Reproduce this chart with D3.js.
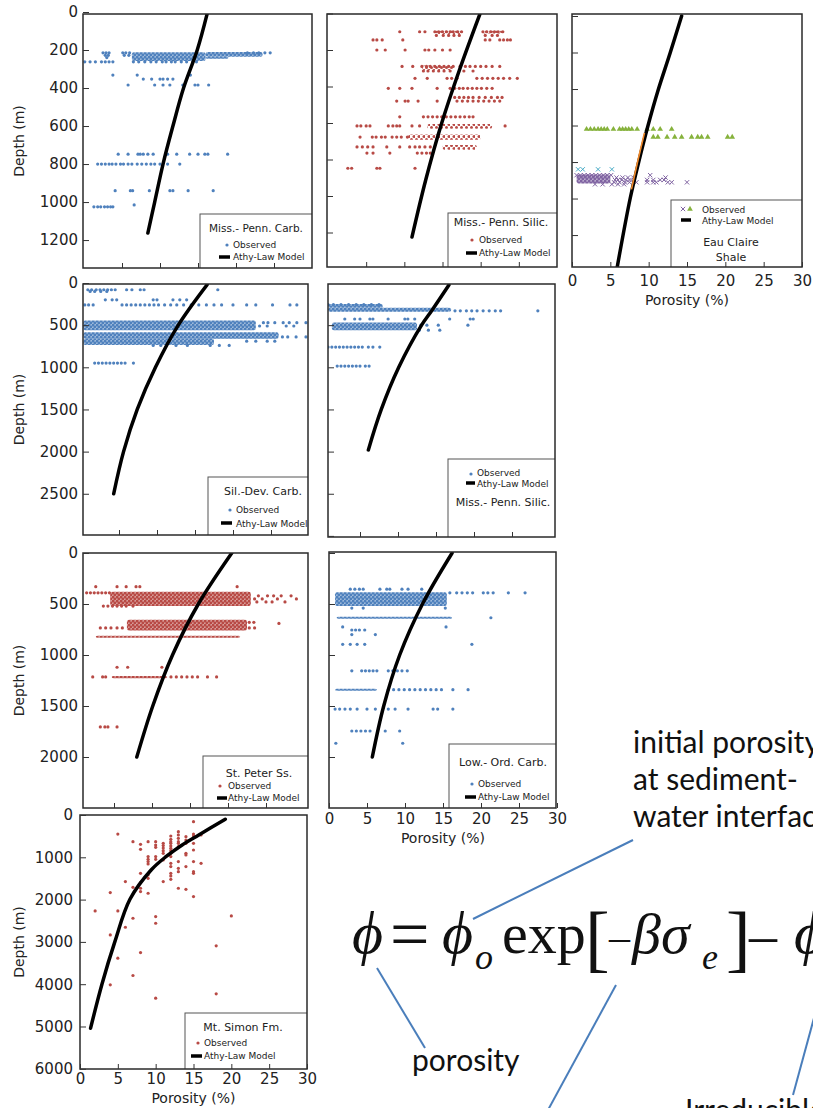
<!DOCTYPE html>
<html>
<head>
<meta charset="utf-8">
<style>
  body { margin:0; background:#fff; }
  svg text { font-family:"DejaVu Sans", Verdana, sans-serif; fill:#222; }
  .frame { fill:none; stroke:#2a2a2a; stroke-width:1.5; }
  .legbox { fill:#fff; stroke:#555; stroke-width:1; }
  .note { font-family:Lato, "Open Sans", sans-serif; font-size:30px; fill:#111; }
  .eq { font-family:"Liberation Serif", "Times New Roman", serif; fill:#111; }
  .pointer { stroke:#4a7ebb; stroke-width:2; }
</style>
</head>
<body>
<div id="chart"></div>
<script src="https://cdnjs.cloudflare.com/ajax/libs/d3/7.8.5/d3.min.js"></script>
<script>
// ---- data: rows are [depth (m), [porosity (%) ...]] ----
var porTicks = [0, 5, 10, 15, 20, 25, 30];
var depthTicks1 = [0, 200, 400, 600, 800, 1000, 1200];
var depthTicks4 = [0, 500, 1000, 1500, 2000, 2500];
var depthTicks5 = [500, 1000, 1500, 2000, 2500, 3000];
var depthTicks6 = [0, 500, 1000, 1500, 2000];
var depthTicks8 = [0, 1000, 2000, 3000, 4000, 5000, 6000];

// Miss.- Penn. Carb.
var obs1 = [
  [215, [2.5, 2.9, 3.3, 5.1, 5.5, 6.0, 21.5, 22.3, 23.0, 23.8, 24.5]],
  [228, [2.8, 3.2, 5.3, 5.9]],
  [240, [3.0]],
  [262, [0.1, 0.8, 1.5, 2.3, 2.8, 3.3, 3.8, 6.5, 7.2, 8.0, 8.8, 9.5, 10.3, 10.8, 11.5, 12.0, 12.8, 13.5, 14.3, 14.8]],
  [332, [3.8, 7.0, 14.0]],
  [353, [7.8, 8.9, 10.0, 10.4, 11.0, 11.7]],
  [384, [5.8, 9.3, 10.4, 11.3, 13.0, 14.6, 15.0, 16.4]],
  [748, [4.5, 5.8, 7.1, 7.4, 7.8, 8.4, 9.1, 11.0, 12.2, 13.9, 15.0, 15.9, 16.3, 18.9]],
  [800, [1.8, 2.3, 2.8, 3.3, 3.7, 4.2, 4.8, 5.2, 5.8, 6.3, 7.0, 7.6, 8.2, 8.8, 9.3, 10.0, 11.0, 12.6]],
  [940, [4.1, 6.1, 6.4, 8.6, 11.3, 11.7, 13.7, 17.0]],
  [1015, [6.6]],
  [1025, [1.3, 1.8, 2.2, 2.7, 3.1, 3.5, 3.8]]
];
// dense clusters: [porMin, porMax, depthTop, depthBottom]
var bands1 = [[6.3, 16, 212, 258], [16, 23.5, 210, 236], [16, 19, 236, 246]];
var model1 = [[16.2, 10], [14.9, 200], [13.1, 400], [11.7, 600], [10.4, 800], [9.3, 1000], [8.4, 1163]];

// Miss.- Penn. Silic. (red)
var obs2 = [
  [100, [9.4, 12.0, 12.7, 14.0, 14.5, 15.0, 15.5, 16.0, 16.4, 17.0, 17.5, 20.3, 20.8, 21.3, 21.8, 22.3, 22.9]],
  [120, [14.2, 15.1, 15.8, 16.5, 17.2, 20.6, 21.5, 22.2]],
  [145, [5.9, 6.4, 7.1, 9.8, 20.6, 21.2, 22.5, 23.0, 23.5, 23.9]],
  [200, [6.4, 7.5, 10.1, 12.7, 13.2, 14.0, 15.0, 16.0]],
  [290, [9.7, 11.1, 12.3, 12.9, 13.4, 14.0, 14.6, 15.2, 15.8, 16.4, 17.3, 18.0, 18.6, 19.3, 20.0, 20.7, 21.5, 22.5]],
  [315, [12.5, 13.1, 13.8, 14.5, 15.2, 16.0, 17.8, 19.0]],
  [355, [11.4, 13.0, 15.6, 16.2, 16.9, 19.5, 20.2, 20.9, 21.6, 22.3, 23.0, 23.8, 24.8]],
  [410, [7.9, 9.4, 11.0, 14.3, 16.0, 16.6, 17.2, 17.7, 18.3, 18.9, 19.5, 20.1, 20.8, 21.5]],
  [460, [16.6, 17.2, 17.8, 18.4, 19.0, 19.8, 20.6, 21.4, 22.2, 22.8]],
  [480, [9.0, 10.1, 10.5, 11.8, 14.3, 16.9, 17.6, 18.3, 19.0, 19.7, 20.4, 21.1, 21.8, 22.5]],
  [566, [9.4, 12.5, 13.1, 13.7, 14.3, 14.9, 15.5, 16.1, 16.7, 17.3, 17.9, 18.5, 19.0]],
  [616, [3.8, 4.3, 5.0, 5.5, 7.9, 8.5, 9.0, 9.4, 11.0, 12.0, 23.2]],
  [677, [4.2, 5.8, 6.3, 7.0, 7.5, 8.4, 9.0, 9.6, 10.4]],
  [731, [3.8, 4.5, 5.2, 5.9, 7.7, 9.4, 10.7, 11.4, 12.0, 12.7, 13.4]],
  [765, [5.1, 5.9, 8.1, 11.7, 12.3, 12.9, 13.4]],
  [848, [2.6, 3.1, 6.4, 6.8, 11.4]]
];
var bands2 = [[14, 17.5, 95, 112], [20.3, 22.9, 95, 110], [12.3, 16.4, 285, 310], [13, 21.5, 605, 632], [10.5, 20, 663, 692], [15, 19.5, 720, 746]];
var model2 = [[19.9, 3], [17.3, 300], [14.9, 600], [12.8, 912], [11.0, 1225]];

// Eau Claire Shale
var obs3green = [
  [620, [1.9, 2.4, 2.9, 3.4, 3.8, 4.2, 4.6, 5.4, 6.2, 6.6, 7.0, 7.4, 7.8, 8.5, 9.8, 10.6, 11.5, 13.0]],
  [663, [10.6, 11.2, 12.4, 13.4, 14.3, 15.6, 16.4, 16.9, 17.7, 20.3, 20.9]]
];
var obs3cyan = [[840, [0.8, 1.4, 3.4, 5.2]]];
var obs3purple = [
  [872, [0.6, 1.1, 1.6, 2.1, 2.6, 3.1, 3.6, 4.1, 4.6, 5.1, 10.2]],
  [885, [5.8, 6.6, 7.3, 8.0, 12.2]],
  [898, [5.6, 6.0, 6.5, 7.0, 7.5, 9.8, 10.6, 11.5, 12.0]],
  [911, [5.5, 6.2, 6.9, 7.5, 8.4, 9.8, 10.6, 11.0, 12.5, 13.0, 15.0]],
  [922, [3.0, 4.0, 5.2, 6.0, 6.8]]
];
var bands3purple = [[0.6, 5.0, 868, 918]];
var model3 = [[14.3, 0], [12.8, 203], [11.2, 411], [9.9, 603], [8.7, 800], [7.6, 997], [5.9, 1375]];
var model3orange = [[9.45, 640], [8.55, 800], [7.75, 950]];

// Sil.-Dev. Carb.
var obs4 = [
  [80, [0.9, 1.4, 2.0, 2.5, 3.0, 3.5, 4.0, 4.5, 6.0, 6.7, 7.8, 8.3, 18.0]],
  [100, [1.2, 1.8, 2.6, 3.4]],
  [200, [3.2, 4.1, 4.7, 9.5, 10.0, 12.1, 13.0, 13.9]],
  [260, [0.5, 1.0, 1.6, 5.4, 6.0, 6.6, 7.2, 7.8, 8.4, 9.0, 9.6, 10.2, 11.0, 11.8, 12.6, 13.5, 14.5, 15.5, 16.5, 17.5, 18.5, 20.0, 21.8, 23.0, 25.2, 27.5, 28.4]],
  [470, [24.0, 24.6, 25.5, 26.6, 27.4, 28.4, 29.6]],
  [510, [23.5, 24.5, 27.0, 28.0]],
  [640, [26.5, 27.2, 28.3, 29.6]],
  [690, [21.8, 23.0, 24.5, 25.5]],
  [740, [9.5, 10.5, 12.5, 14.0, 17.0, 18.2, 19.5]],
  [950, [1.8, 2.3, 2.8, 3.3, 3.8, 4.3, 4.8, 5.3, 5.8, 6.9]]
];
var bands4 = [[0.3, 23, 445, 560], [0.3, 26, 585, 660], [0.3, 17.5, 660, 735]];
var model4 = [[16.6, 20], [12.8, 500], [9.8, 1000], [7.4, 1500], [5.6, 2000], [4.3, 2500]];

// Miss.- Penn. Silic. (blue)
var obs5 = [
  [255, [0.8, 1.5, 2.5, 3.5, 4.5, 5.5, 6.5, 7.5]],
  [330, [17.5, 18.2, 19.0, 19.7, 20.4, 21.2, 22.0, 22.8, 23.5, 28.4]],
  [427, [3.0, 4.3, 5.0, 6.3, 6.7, 8.7, 10.9, 11.3, 12.2, 16.8, 19.5, 19.9]],
  [500, [13.0, 13.8, 15.3, 19.2]],
  [560, [12.8, 14.0, 15.5]],
  [760, [0.8, 1.3, 1.8, 2.3, 2.8, 3.3, 3.8, 4.3, 4.8, 5.3, 6.1, 6.7, 7.6]],
  [985, [2.0, 2.5, 3.0, 3.5, 4.0, 4.5, 5.0, 5.7, 6.2]]
];
var bands5 = [[0.8, 17, 295, 340], [0.8, 8, 250, 295], [1.3, 12.5, 470, 560]];
var model5 = [[16.7, 24], [14.5, 320], [13.1, 500], [10.1, 1000], [7.8, 1500], [6.1, 1980]];

// St. Peter Ss.
var obs6 = [
  [330, [2.6, 5.4, 6.6, 7.9, 8.4, 21.2]],
  [390, [1.4, 1.9, 2.4, 2.9, 3.4, 3.9, 4.4]],
  [420, [24.0, 25.2, 26.0, 27.0, 28.3]],
  [450, [23.5, 24.5, 26.5, 29.0]],
  [480, [23.8, 25.0, 25.8, 27.5]],
  [520, [3.6, 4.2, 4.8, 5.4, 6.0, 6.6, 7.5]],
  [680, [22.8, 23.4]],
  [690, [26.7]],
  [735, [3.2, 3.9, 4.6, 5.4, 6.1, 22.8, 23.5]],
  [1120, [5.4, 6.8, 11.3]],
  [1215, [2.2, 3.5, 3.9, 12.5, 13.2, 13.9, 14.6, 15.3, 16.0, 17.3, 18.5]],
  [1705, [3.2, 3.8, 4.2, 5.4]]
];
var bands6 = [[4.5, 23, 380, 520], [6.7, 22.5, 655, 760], [2.6, 21.6, 812, 832], [4.7, 12, 1205, 1228]];
var model6 = [[20.5, 0], [16.1, 500], [12.7, 1000], [10.1, 1500], [8.0, 2000]];

// Low.- Ord. Carb.
var obs7 = [
  [355, [2.8, 3.4, 4.0, 4.5, 6.7, 7.6, 8.0, 9.6, 10.4, 12.2]],
  [390, [15.9, 16.8, 17.5, 18.2, 18.9, 20.3, 20.9, 21.6, 23.6, 25.8]],
  [540, [3.0, 4.5, 15.3]],
  [635, [21.3]],
  [725, [1.8, 15.4]],
  [755, [3.0, 3.5, 4.0, 4.7]],
  [800, [3.0, 6.1]],
  [895, [1.8, 2.8, 3.7, 4.7, 18.8]],
  [1155, [3.0, 4.3, 4.8, 5.3, 5.8, 6.3, 7.8, 8.4, 9.0, 9.6, 10.3]],
  [1340, [7.8, 8.5, 9.2, 9.9, 10.6, 11.3, 12.0, 12.7, 13.4, 14.1, 14.8, 16.3, 18.3]],
  [1530, [0.8, 1.4, 2.1, 2.8, 3.7, 5.0, 6.1, 7.8, 8.7, 10.4, 13.7, 14.3, 16.3]],
  [1745, [3.0, 3.6, 4.2, 4.8, 5.4, 7.4, 9.3]],
  [1865, [0.9, 9.7]]
];
var bands7 = [[0.8, 15.5, 385, 520], [1.0, 16.2, 625, 645], [0.8, 6.3, 1330, 1350]];
var model7 = [[16.2, 0], [12.3, 500], [9.3, 1000], [7.2, 1500], [5.7, 2000]];

// Mt. Simon Fm. -- columns: [porosity, [depths ...]]
var cols8 = [
  [2, [2268]],
  [4, [1835, 2835, 4016]],
  [5, [450, 2268, 3386]],
  [6, [1575, 2654]],
  [7, [630, 1709, 2441, 3795]],
  [8, [693, 811, 1378, 1598, 1732, 1811, 3252]],
  [9, [630, 984, 1047, 1102, 1157, 1417, 1496, 1850]],
  [10, [630, 709, 764, 984, 1047, 2402, 2559, 4331]],
  [11, [669, 724, 780, 843, 906, 1063, 1575]],
  [12, [496, 575, 630, 669, 732, 787, 843, 906, 984, 1142, 1220, 1378, 1441, 1520]],
  [13, [394, 472, 551, 630, 669, 748, 1102, 1260, 1339, 1732]],
  [14, [512, 591, 669, 906, 945, 1220, 1756]],
  [15, [157, 449, 496, 669, 827, 1102, 1339, 1378, 1929]],
  [16, [472, 1142]],
  [18, [3094, 4228]],
  [20, [2386]]
];
var model8 = [[19.2, 100], [15.7, 472], [13.5, 709], [11.4, 980], [9.4, 1300], [6.6, 1992], [4.6, 3000], [2.9, 4000], [1.4, 5040]];

// ---- drawing ----
var blue = '#4f81bd', red = '#b84a45', green = '#86b23c', purple = '#8064a2', cyan = '#4bacc6', orange = '#f08a2c';

function flatRows(rows) {
  var pts = [];
  rows.forEach(function (r) { r[1].forEach(function (p) { pts.push([p, r[0]]); }); });
  return pts;
}
function flatCols(cols) {
  var pts = [];
  cols.forEach(function (c) { c[1].forEach(function (d) { pts.push([c[0], d]); }); });
  return pts;
}

var panels = [
  { frame: [83, 14, 312, 268], xr: [84, 312], yr: [12, 268], dMax: 1347, dTicks: depthTicks1, labelY: true,
    series: [{ pts: flatRows(obs1), bands: bands1, color: blue, pat: 'blue', shape: 'dot' }], model: model1,
    legend: { box: [200, 214], titles: [['Miss.- Penn. Carb.', 256, 232, 10.5]], marks: [['dot', blue, 227, 245]],
              obs: [233, 248], line: [219, 230, 257], lineText: [233, 260] } },
  { frame: [327, 14, 557, 267], xr: [328, 557], yr: [13.5, 267], dMax: 1389, dTicks: depthTicks1, labelY: false,
    series: [{ pts: flatRows(obs2), bands: bands2, color: red, pat: 'red-sparse', shape: 'dot' }], model: model2,
    legend: { box: [448, 213], titles: [['Miss.- Penn. Silic.', 501, 226, 11]], marks: [['dot', red, 472, 240]],
              obs: [479, 243], line: [466, 477, 253], lineText: [479, 256] } },
  { frame: [572, 14, 802, 267], xr: [572, 802], yr: [16, 267], dMax: 1375, dTicks: depthTicks1, labelY: false,
    labelX: { pad: 8, title: 305 },
    series: [
      { pts: flatRows(obs3green), bands: [], color: green, shape: 'tri' },
      { pts: flatRows(obs3cyan), bands: [], color: cyan, shape: 'x' },
      { pts: flatRows(obs3purple), bands: bands3purple, color: purple, pat: 'purple', shape: 'x' }
    ], model: model3, extra: model3orange,
    legend: { box: [671, 200], titles: [['Eau Claire', 731, 246, 11], ['Shale', 731, 261, 11]],
              marks: [['x', purple, 683, 209], ['tri', green, 690, 209]],
              obs: [702, 213], line: [681, 691, 220], lineText: [702, 224] } },
  { frame: [83, 284, 308, 535], xr: [81, 309], yr: [283, 535], dMax: 2989, dTicks: depthTicks4, labelY: true,
    series: [{ pts: flatRows(obs4), bands: bands4, color: blue, pat: 'blue', shape: 'dot' }], model: model4,
    legend: { box: [208, 477], titles: [['Sil.-Dev. Carb.', 263, 495, 11]], marks: [['dot', blue, 230, 510]],
              obs: [236, 513], line: [221, 232, 523], lineText: [236, 527] } },
  { frame: [328, 284, 555, 537], xr: [322, 550], yr: [283, 537], dMax: 3013, dTicks: depthTicks5, labelY: false,
    series: [{ pts: flatRows(obs5), bands: bands5, color: blue, pat: 'blue', shape: 'dot' }], model: model5,
    legend: { box: [448, 459], titles: [['Miss.- Penn. Silic.', 503, 506, 11]], marks: [['dot', blue, 471, 474]],
              obs: [477, 476], line: [466, 475, 483], lineText: [477, 487] } },
  { frame: [83, 553, 308, 808], xr: [76, 304], yr: [553, 808], dMax: 2500, dTicks: depthTicks6, labelY: true,
    series: [{ pts: flatRows(obs6), bands: bands6, color: red, pat: 'red', shape: 'dot' }], model: model6,
    legend: { box: [203, 756], titles: [['St. Peter Ss.', 259, 777, 11]], marks: [['dot', red, 220, 786]],
              obs: [228, 789], line: [217, 227, 798], lineText: [228, 801] } },
  { frame: [329, 552, 556, 808], xr: [329, 557], yr: [553, 808], dMax: 2500, dTicks: depthTicks6, labelY: false,
    labelX: { pad: 5, title: 843 },
    series: [{ pts: flatRows(obs7), bands: bands7, color: blue, pat: 'blue', shape: 'dot' }], model: model7,
    legend: { box: [449, 744], titles: [['Low.- Ord. Carb.', 503, 766, 11]], marks: [['dot', blue, 472, 784]],
              obs: [478, 787], line: [465, 476, 797], lineText: [478, 800] } },
  { frame: [80, 815, 307, 1069], xr: [80, 307], yr: [815, 1069], dMax: 6005, dTicks: depthTicks8, labelY: true, padY: 7,
    labelX: { pad: 4, title: 1103 },
    series: [{ pts: flatCols(cols8), bands: [], color: red, shape: 'dot' }], model: model8,
    legend: { box: [185, 1013], titles: [['Mt. Simon Fm.', 243, 1031, 11]], marks: [['dot', red, 198, 1043]],
              obs: [204, 1046], line: [191, 202, 1056], lineText: [204, 1059] } }
];

var svg = d3.select('#chart').append('svg').attr('width', 813).attr('height', 1108);
var defs = svg.append('defs');
// dense point clouds: tinted background with staggered dots
[['blue', blue], ['red', red], ['purple', purple]].forEach(function (c) {
  var pat = defs.append('pattern').attr('id', 'pat-' + c[0]).attr('patternUnits', 'userSpaceOnUse')
    .attr('width', 4).attr('height', 4);
  pat.append('rect').attr('width', 4).attr('height', 4).attr('fill', c[1]).attr('fill-opacity', 0.55);
  pat.append('circle').attr('cx', 1).attr('cy', 1).attr('r', 1.5).attr('fill', c[1]);
  pat.append('circle').attr('cx', 3).attr('cy', 3).attr('r', 1.5).attr('fill', c[1]);
});
var sparse = defs.append('pattern').attr('id', 'pat-red-sparse').attr('patternUnits', 'userSpaceOnUse')
  .attr('width', 5).attr('height', 6);
sparse.append('circle').attr('cx', 1.5).attr('cy', 1.5).attr('r', 1.5).attr('fill', red);
sparse.append('circle').attr('cx', 4).attr('cy', 4.5).attr('r', 1.5).attr('fill', red);

var symTri = d3.symbol().type(d3.symbolTriangle).size(14);
var symX = d3.symbol().type(d3.symbolTimes).size(14);

function drawMark(sel, shape, color, cx, cy) {
  if (shape === 'dot') {
    sel.append('circle').attr('cx', cx).attr('cy', cy).attr('r', 1.6).attr('fill', color);
  } else if (shape === 'tri') {
    sel.append('path').attr('d', symTri).attr('transform', 'translate(' + cx + ',' + cy + ')').attr('fill', color);
  } else {
    sel.append('path').attr('d', symX).attr('transform', 'translate(' + cx + ',' + cy + ')')
      .attr('fill', 'none').attr('stroke', color).attr('stroke-width', 1);
  }
}

panels.forEach(function (p, i) {
  var x = d3.scaleLinear().domain([0, 30]).range(p.xr);
  var y = d3.scaleLinear().domain([0, p.dMax]).range(p.yr);
  var f = p.frame;
  var g = svg.append('g');

  defs.append('clipPath').attr('id', 'clip' + i).append('rect')
    .attr('x', f[0]).attr('y', f[1]).attr('width', f[2] - f[0]).attr('height', f[3] - f[1]);
  var inner = g.append('g').attr('clip-path', 'url(#clip' + i + ')');

  p.series.forEach(function (s) {
    inner.append('g').selectAll('rect').data(s.bands).enter().append('rect')
      .attr('x', function (d) { return x(d[0]); })
      .attr('width', function (d) { return x(d[1]) - x(d[0]); })
      .attr('y', function (d) { return y(d[2]); })
      .attr('height', function (d) { return y(d[3]) - y(d[2]); })
      .attr('rx', 2)
      .attr('fill', 'url(#pat-' + s.pat + ')');
    var pg = inner.append('g');
    s.pts.forEach(function (d) { drawMark(pg, s.shape, s.color, x(d[0]), y(d[1])); });
  });

  var line = d3.line().x(function (d) { return x(d[0]); }).y(function (d) { return y(d[1]); })
    .curve(d3.curveCatmullRom);
  inner.append('path').attr('d', line(p.model)).attr('fill', 'none')
    .attr('stroke', '#000').attr('stroke-width', 3.5).attr('stroke-linecap', 'round');
  if (p.extra) {
    inner.append('path').attr('d', line(p.extra)).attr('fill', 'none')
      .attr('stroke', orange).attr('stroke-width', 1.6);
  }

  // legend
  var L = p.legend;
  var lg = inner.append('g');
  lg.append('rect').attr('class', 'legbox').attr('x', L.box[0]).attr('y', L.box[1])
    .attr('width', f[2] - L.box[0] + 2).attr('height', f[3] - L.box[1] + 2);
  L.titles.forEach(function (t) {
    lg.append('text').attr('x', t[1]).attr('y', t[2]).attr('text-anchor', 'middle')
      .attr('font-size', t[3]).text(t[0]);
  });
  L.marks.forEach(function (m) { drawMark(lg, m[0], m[1], m[2], m[3]); });
  lg.append('text').attr('x', L.obs[0]).attr('y', L.obs[1]).attr('font-size', 9).text('Observed');
  lg.append('line').attr('x1', L.line[0]).attr('x2', L.line[1]).attr('y1', L.line[2]).attr('y2', L.line[2])
    .attr('stroke', '#000').attr('stroke-width', 3.5);
  lg.append('text').attr('x', L.lineText[0]).attr('y', L.lineText[1]).attr('font-size', 9).text('Athy-Law Model');

  // frame
  g.append('rect').attr('class', 'frame').attr('x', f[0]).attr('y', f[1])
    .attr('width', f[2] - f[0]).attr('height', f[3] - f[1]);

  // axes (ticks point inward)
  var yAxis = d3.axisLeft(y).tickValues(p.dTicks).tickSize(-6).tickPadding(p.padY || 5)
    .tickFormat(p.labelY ? d3.format('d') : '');
  g.append('g').attr('transform', 'translate(' + f[0] + ',0)').call(yAxis)
    .attr('font-family', '"DejaVu Sans", Verdana, sans-serif').attr('font-size', 15)
    .call(function (a) { a.select('.domain').remove(); a.selectAll('line').attr('stroke', '#333'); a.selectAll('text').attr('fill', '#222'); });

  var xAxis = d3.axisBottom(x).tickValues(p.labelX ? porTicks : porTicks.slice(1, 6)).tickSize(-5)
    .tickPadding(p.labelX ? p.labelX.pad : 3).tickFormat(p.labelX ? d3.format('d') : '');
  g.append('g').attr('transform', 'translate(0,' + f[3] + ')').call(xAxis)
    .attr('font-family', '"DejaVu Sans", Verdana, sans-serif').attr('font-size', 15)
    .call(function (a) { a.select('.domain').remove(); a.selectAll('line').attr('stroke', '#333'); a.selectAll('text').attr('fill', '#222'); });

  if (p.labelY) {
    var cy = (f[1] + f[3]) / 2;
    g.append('text').attr('transform', 'translate(19,' + cy + ') rotate(-90)')
      .attr('text-anchor', 'middle').attr('dy', '0.35em').attr('font-size', 14).text('Depth (m)');
  }
  if (p.labelX) {
    g.append('text').attr('x', (p.xr[0] + p.xr[1]) / 2).attr('y', p.labelX.title)
      .attr('text-anchor', 'middle').attr('font-size', 14).text('Porosity (%)');
  }
});

// ---- equation and annotations ----
var notes = [
  ['initial porosity', 633, 753], ['at sediment-', 633, 790], ['water interface', 633, 827],
  ['porosity', 412, 1071], ['Irreducible', 685, 1121]
];
notes.forEach(function (n) {
  svg.append('text').attr('class', 'note').attr('x', n[1]).attr('y', n[2]).text(n[0]);
});

var pointers = [[633, 840, 473, 919], [377, 968, 425, 1048], [616, 985, 548, 1110], [814, 1018, 793, 1095]];
svg.selectAll('line.pointer').data(pointers).enter().append('line').attr('class', 'pointer')
  .attr('x1', function (d) { return d[0]; }).attr('y1', function (d) { return d[1]; })
  .attr('x2', function (d) { return d[2]; }).attr('y2', function (d) { return d[3]; });

// [glyph, x, baseline, size, italic]
var eqParts = [
  ['\u03d5', 352, 953, 60, true], ['=', 390, 958, 70, false], ['\u03d5', 442, 953, 60, true],
  ['o', 475, 969, 36, true], ['exp', 502, 953, 58, false], ['[', 585, 963, 74, false],
  ['\u2013', 609, 951, 42, false], ['\u03b2', 632, 953, 58, true], ['\u03c3', 661, 953, 58, true],
  ['e', 702, 969, 36, true], [']', 726, 963, 74, false], ['\u2013', 749, 954, 56, false],
  ['\u03d5', 794, 953, 60, true]
];
eqParts.forEach(function (e) {
  svg.append('text').attr('class', 'eq').attr('x', e[1]).attr('y', e[2]).attr('font-size', e[3])
    .attr('font-style', e[4] ? 'italic' : 'normal').text(e[0]);
});
</script>
</body>
</html>
